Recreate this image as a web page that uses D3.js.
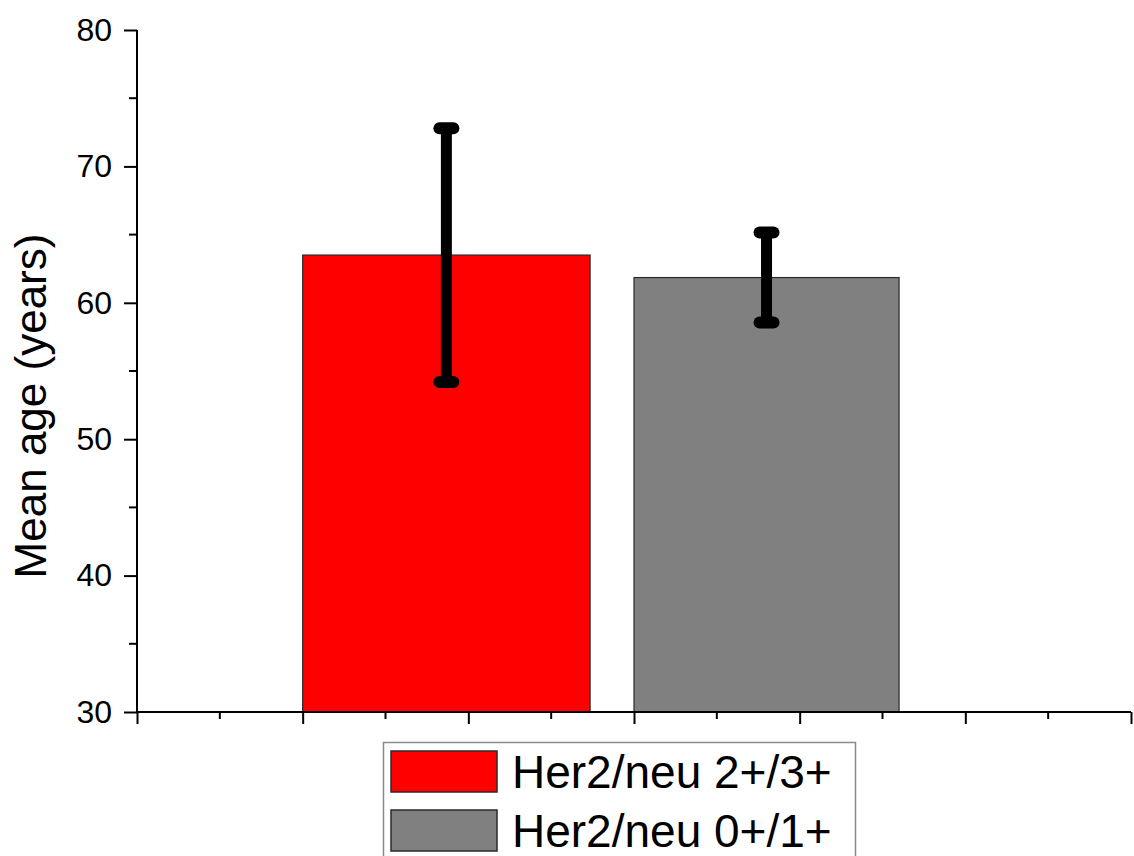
<!DOCTYPE html>
<html>
<head>
<meta charset="utf-8">
<script src="https://cdn.jsdelivr.net/npm/d3@7"></script>
<style>
  html, body { margin: 0; padding: 0; background: #fff; }
  svg { display: block; font-family: "Liberation Sans", Arial, sans-serif; }
</style>
</head>
<body>
<svg id="chart" width="1134" height="856"></svg>
<script>
// ---- data ----
const categories = ["Her2/neu 2+/3+", "Her2/neu 0+/1+"];
const meanAge = [63.5, 61.85];
const errorSD = [9.3, 3.3];
const barColors = ["#ff0000", "#808080"];
const yTickValues = [30, 40, 50, 60, 70, 80];
const yTickLabels = ["30", "40", "50", "60", "70", "80"];

// ---- layout ----
const W = 1134, H = 856;
const plot = { left: 137, right: 1131, top: 30, bottom: 712 };
const barSpans = [[1, 2.735], [3, 4.6]]; // in x-axis units

const svg = d3.select("#chart");

const x = d3.scaleLinear().domain([0, 6]).range([plot.left, plot.right]);
const y = d3.scaleLinear().domain([30, 80]).range([plot.bottom, plot.top]);

// bars
svg.append("g").selectAll("rect")
  .data(categories)
  .join("rect")
  .attr("x", (d, i) => x(barSpans[i][0]))
  .attr("width", (d, i) => x(barSpans[i][1]) - x(barSpans[i][0]))
  .attr("y", (d, i) => y(meanAge[i]))
  .attr("height", (d, i) => y(30) - y(meanAge[i]))
  .attr("fill", (d, i) => barColors[i])
  .attr("stroke", "#2a2a2a")
  .attr("stroke-width", 1.2);

// error bars
const eb = svg.append("g").selectAll("g")
  .data(categories)
  .join("g");
eb.append("line")
  .attr("x1", (d, i) => x((barSpans[i][0] + barSpans[i][1]) / 2))
  .attr("x2", (d, i) => x((barSpans[i][0] + barSpans[i][1]) / 2))
  .attr("y1", (d, i) => y(meanAge[i] + errorSD[i]))
  .attr("y2", (d, i) => y(meanAge[i] - errorSD[i]))
  .attr("stroke", "#000").attr("stroke-width", 11);
[1, -1].forEach(sgn => {
  eb.append("line")
    .attr("x1", (d, i) => x((barSpans[i][0] + barSpans[i][1]) / 2) - 7)
    .attr("x2", (d, i) => x((barSpans[i][0] + barSpans[i][1]) / 2) + 7)
    .attr("y1", (d, i) => y(meanAge[i] + sgn * errorSD[i]))
    .attr("y2", (d, i) => y(meanAge[i] + sgn * errorSD[i]))
    .attr("stroke", "#000").attr("stroke-width", 12)
    .attr("stroke-linecap", "round");
});

// y axis
const yMinor = d3.range(35, 80, 10);
const yAxisG = svg.append("g")
  .attr("transform", `translate(${plot.left},0)`)
  .call(d3.axisLeft(y).tickValues(yTickValues).tickFormat((d, i) => yTickLabels[i]).tickSizeInner(13).tickSizeOuter(0).tickPadding(12));
yAxisG.select(".domain").attr("stroke-width", 2).attr("d", `M0,${plot.bottom}V${plot.top}`);
yAxisG.selectAll(".tick line").attr("stroke-width", 2);
yAxisG.selectAll(".tick text").attr("font-size", 32).attr("fill", "#000")
  .attr("font-family", '"Liberation Sans", Arial, sans-serif');
yAxisG.append("g").selectAll("line").data(yMinor).join("line")
  .attr("x1", -8).attr("x2", 0)
  .attr("y1", d => y(d)).attr("y2", d => y(d))
  .attr("stroke", "#000").attr("stroke-width", 2);

// x axis
const xAxisG = svg.append("g")
  .attr("transform", `translate(0,${plot.bottom})`)
  .call(d3.axisBottom(x).tickValues(d3.range(0, 7, 1)).tickFormat("").tickSizeInner(12).tickSizeOuter(0));
xAxisG.select(".domain").attr("stroke-width", 2).attr("d", `M${plot.left},0H${plot.right}`);
xAxisG.selectAll(".tick line").attr("stroke-width", 2);
xAxisG.append("g").selectAll("line").data(d3.range(0.5, 6, 1)).join("line")
  .attr("x1", d => x(d)).attr("x2", d => x(d))
  .attr("y1", 0).attr("y2", 7)
  .attr("stroke", "#000").attr("stroke-width", 2);

// y title
svg.append("text")
  .attr("transform", `translate(46,${(plot.top + plot.bottom) / 2 + 35}) rotate(-90)`)
  .attr("text-anchor", "middle")
  .attr("font-size", 44)
  .attr("fill", "#000")
  .text("Mean age (years)");

// legend
const lg = svg.append("g");
lg.append("rect")
  .attr("x", 383.5).attr("y", 742.5).attr("width", 472).attr("height", 130)
  .attr("fill", "#fff").attr("stroke", "#8a8a8a").attr("stroke-width", 1.5);
const rowY = [771.5, 830.5];
const items = lg.selectAll("g.item").data(categories).join("g").attr("class", "item");
items.append("rect")
  .attr("x", 391).attr("y", (d, i) => rowY[i] - 20.5)
  .attr("width", 106).attr("height", 41)
  .attr("fill", (d, i) => barColors[i])
  .attr("stroke", "#2a2a2a").attr("stroke-width", 1.5);
items.append("text")
  .attr("x", 512).attr("y", (d, i) => rowY[i] + 16)
  .attr("font-size", 46).attr("fill", "#000")
  .text(d => d);
</script>
</body>
</html>
